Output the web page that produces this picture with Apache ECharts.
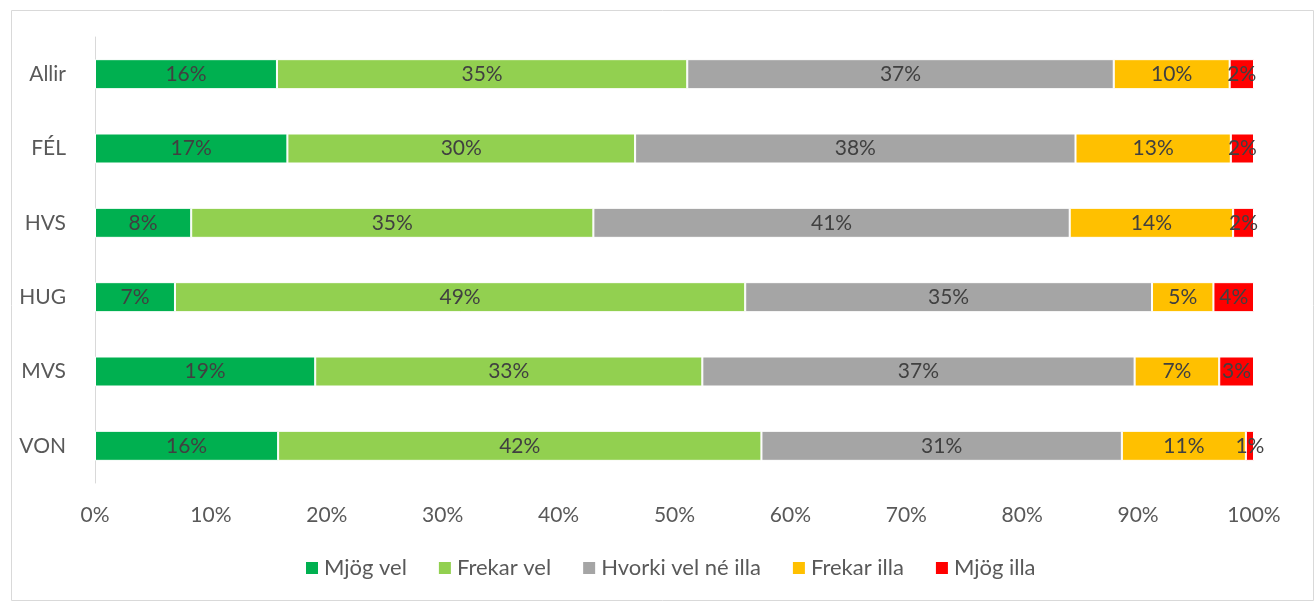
<!DOCTYPE html>
<html>
<head>
<meta charset="utf-8">
<script src="https://cdn.jsdelivr.net/npm/echarts@6/dist/echarts.min.js"></script>
<style>
html,body{margin:0;padding:0;background:#fff;}
#chart{width:1316px;height:602px;}
</style>
</head>
<body>
<div id="chart"></div>
<script>
const categories = ['Allir', 'FÉL', 'HVS', 'HUG', 'MVS', 'VON'];
const seriesNames = ['Mjög vel', 'Frekar vel', 'Hvorki vel né illa', 'Frekar illa', 'Mjög illa'];
const mjogVel = [15.7, 16.6, 8.3, 6.9, 19.0, 15.8];
const frekarVel = [35.4, 30.0, 34.7, 49.2, 33.4, 41.7];
const hvorki = [36.8, 38.0, 41.1, 35.1, 37.3, 31.1];
const frekarIlla = [10.0, 13.4, 14.1, 5.3, 7.3, 10.7];
const mjogIlla = [2.1, 2.0, 1.8, 3.5, 3.0, 0.7];
const xTicks = [0, 10, 20, 30, 40, 50, 60, 70, 80, 90, 100];
const colors = ['#00B050', '#92D050', '#A5A5A5', '#FFC000', '#FF0000'];

const FONT = 'Lato, "Open Sans", sans-serif';
const FS = 21;
const allData = [mjogVel, frekarVel, hvorki, frekarIlla, mjogIlla];

const chart = echarts.init(document.getElementById('chart'), null, {renderer: 'canvas'});
chart.setOption({
  animation: false,
  textStyle: {fontFamily: FONT},
  graphic: [{
    type: 'rect', left: 9, top: 8,
    shape: {width: 1302, height: 590},
    style: {fill: 'none', stroke: '#D9D9D9', lineWidth: 1}
  }],
  grid: {left: 95, right: 62, top: 37, bottom: 119, containLabel: false},
  legend: {
    bottom: 18, left: 299,
    itemWidth: 14, itemHeight: 14, itemGap: 30,
    icon: 'rect',
    textStyle: {fontFamily: FONT, fontSize: 22, color: '#595959'},
    data: seriesNames
  },
  xAxis: {
    type: 'value', min: xTicks[0], max: xTicks[xTicks.length - 1], interval: 10,
    axisLine: {show: false}, axisTick: {show: false},
    splitLine: {show: false},
    axisLabel: {formatter: '{value}%', fontFamily: FONT, fontSize: FS, color: '#595959', margin: 22}
  },
  yAxis: {
    type: 'category', data: categories, inverse: true,
    axisLine: {show: true, lineStyle: {color: '#D9D9D9', width: 1}},
    axisTick: {show: false},
    axisLabel: {fontFamily: FONT, fontSize: FS, color: '#595959', margin: 29}
  },
  series: seriesNames.map((name, i) => ({
    name: name, type: 'bar', stack: 'total', barWidth: 30,
    data: allData[i],
    itemStyle: {color: colors[i], borderColor: '#fff', borderWidth: 1},
    label: {
      show: true, position: 'inside',
      formatter: p => Math.round(p.value) + '%',
      fontFamily: FONT, fontSize: FS, color: '#404040'
    }
  }))
});
</script>
</body>
</html>
